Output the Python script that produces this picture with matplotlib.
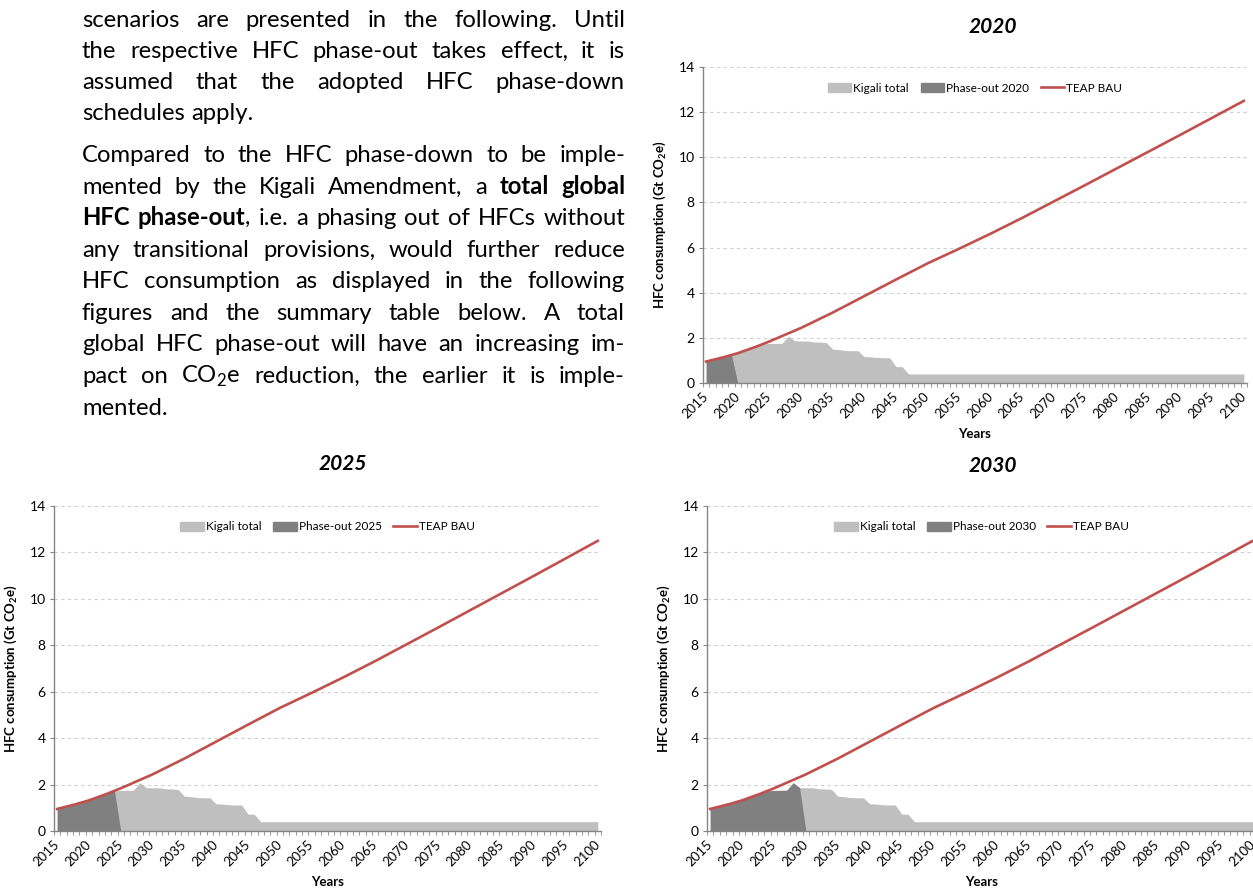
import matplotlib
matplotlib.use("Agg")
from matplotlib import pyplot as plt
from matplotlib.patches import Patch
from matplotlib.lines import Line2D
import numpy as np

plt.rcParams['font.family'] = ['Lato', 'DejaVu Sans']
plt.rcParams['mathtext.fontset'] = 'custom'
plt.rcParams['mathtext.rm'] = 'Lato'
plt.rcParams['mathtext.bf'] = 'Lato:bold'

# Datos
years = list(range(2015, 2101))

kigali_total = [0.95, 1.02, 1.09, 1.16, 1.24, 1.32, 1.42, 1.52, 1.62, 1.73,
                1.75, 1.75, 1.76, 2.08, 1.87, 1.86, 1.86, 1.82, 1.81, 1.79,
                1.50, 1.48, 1.44, 1.43, 1.43, 1.17, 1.16, 1.13, 1.12, 1.12,
                0.73, 0.72,
                0.40, 0.40, 0.40, 0.40, 0.40, 0.40, 0.40, 0.40, 0.40, 0.40,
                0.40, 0.40, 0.40, 0.40, 0.40, 0.40, 0.40, 0.40, 0.40, 0.40,
                0.40, 0.40, 0.40, 0.40, 0.40, 0.40, 0.40, 0.40, 0.40, 0.40,
                0.40, 0.40, 0.40, 0.40, 0.40, 0.40, 0.40, 0.40, 0.40, 0.40,
                0.40, 0.40, 0.40, 0.40, 0.40, 0.40, 0.40, 0.40, 0.40, 0.40,
                0.40, 0.40, 0.40, 0.40]

bau_years = [2015, 2016, 2017, 2018, 2019, 2020, 2021, 2022, 2023, 2024, 2025,
             2026, 2027, 2028, 2029, 2030, 2035, 2040, 2045, 2050, 2055, 2060,
             2065, 2070, 2075, 2080, 2085, 2090, 2095, 2100]
bau_vals = [0.95, 1.02, 1.09, 1.16, 1.24, 1.32, 1.42, 1.52, 1.62, 1.73, 1.84,
            1.96, 2.08, 2.20, 2.32, 2.44, 3.12, 3.85, 4.58, 5.30, 5.95, 6.62,
            7.32, 8.05, 8.78, 9.52, 10.26, 11.00, 11.75, 12.50]

phaseout_years = [2020, 2025, 2030]
xtick_years = list(range(2015, 2101, 5))
ytick_vals = [0, 2, 4, 6, 8, 10, 12, 14]

W, H = 1253, 889
fig = plt.figure(figsize=(W / 100, H / 100), dpi=100)

LIGHT = '#BFBFBF'
DARK = '#808080'
RED = '#C0504D'
AXC = '#868686'


def make_chart(rect, po_year, title_xy):
    left, top, right, bottom = rect
    ax = fig.add_axes([left / W, 1 - bottom / H, (right - left) / W, (bottom - top) / H])
    yrs = np.array(years)
    kig = np.array(kigali_total)
    ax.fill_between(yrs, 0, kig, color=LIGHT, lw=0, zorder=2)
    # la serie de phase-out sigue a Kigali hasta el año de eliminacion
    n = po_year - 2015
    po_x = list(yrs[:n]) + [po_year]
    po_y = list(kig[:n]) + [0]
    ax.fill_between(po_x, 0, po_y, color=DARK, lw=0, zorder=3)
    ax.plot(bau_years, bau_vals, color=RED, lw=1.9, zorder=4)

    ax.set_xlim(2014.5, 2100.5)
    ax.set_ylim(0, 14)
    ax.set_yticks(ytick_vals)
    ax.set_xticks(xtick_years)
    ax.set_xticklabels([str(y) for y in xtick_years], rotation=45, ha='right',
                       va='center', rotation_mode='anchor', fontsize=9.5)
    ax.set_xticks(np.arange(2014.5, 2101, 1), minor=True)
    ax.tick_params(axis='x', which='major', length=0, pad=8)
    ax.tick_params(axis='x', which='minor', length=3, color=AXC, direction='out')
    ax.tick_params(axis='y', length=3, color=AXC, labelsize=10, pad=3)
    for s in ['top', 'right']:
        ax.spines[s].set_visible(False)
    for s in ['left', 'bottom']:
        ax.spines[s].set_color(AXC)
        ax.spines[s].set_linewidth(1.0)
    ax.grid(axis='y', ls=(0, (3, 3)), color='#D0D0D0', lw=0.8, zorder=0)
    ax.set_axisbelow(True)

    ax.set_ylabel('HFC consumption (Gt CO$_\\mathbf{2}$e)', fontsize=9.5, fontweight='bold')
    ax.yaxis.set_label_coords(-35 / (right - left), 0.5)
    ax.set_xlabel('Years', fontsize=9.5, fontweight='bold')
    ax.xaxis.set_label_coords(0.5, -45 / (bottom - top))

    handles = [Patch(color=LIGHT), Patch(color=DARK), Line2D([], [], color=RED, lw=1.9)]
    labels = ['Kigali total', 'Phase-out %d' % po_year, 'TEAP BAU']
    ax.legend(handles, labels, loc='center', bbox_to_anchor=(0.5, 1 - 21 / (bottom - top)),
              ncol=3, frameon=False, fontsize=8.5, handlelength=2.0, handleheight=0.7,
              handletextpad=0.15, columnspacing=1.0)

    fig.text(title_xy[0] / W, 1 - title_xy[1] / H, str(po_year), ha='center', va='center',
             fontsize=15, fontweight='bold', fontstyle='italic')
    return ax


make_chart((703, 67, 1247, 383), phaseout_years[0], (993, 27))
make_chart((54, 506, 601, 831), phaseout_years[1], (343, 464))
make_chart((707, 506, 1256, 831), phaseout_years[2], (993, 466))

# Texto justificado
para_lines = [
    ("scenarios are presented in the following. Until", True, 20),
    ("the respective HFC phase-out takes effect, it is", True, 51),
    ("assumed that the adopted HFC phase-down", True, 82),
    ("schedules apply.", False, 113),
    ("Compared to the HFC phase-down to be imple-", True, 155),
    ("mented by the Kigali Amendment, a *total* *global*", True, 187),
    ("*HFC* *phase-out*, i.e. a phasing out of HFCs without", True, 218),
    ("any transitional provisions, would further reduce", True, 250),
    ("HFC consumption as displayed in the following", True, 281),
    ("figures and the summary table below. A total", True, 313),
    ("global HFC phase-out will have an increasing im-", True, 344),
    ("pact on CO$_2$e reduction, the earlier it is imple-", True, 376),
    ("mented.", False, 408),
]
TX0, TX1 = 82, 625
FS = 17.2

fig.canvas.draw()
rend = fig.canvas.get_renderer()

tmp = []
for line, justify, yc in para_lines:
    words = line.split(' ')
    word_objs = []
    for w in words:
        parts = w.split('*')
        segs = []
        for i, p in enumerate(parts):
            if p == '':
                continue
            t = fig.text(0, 0, p, fontsize=FS, fontweight='bold' if i % 2 == 1 else 'normal',
                         color='black', va='baseline', ha='left')
            wd = t.get_window_extent(rend).width
            segs.append((t, wd))
        word_objs.append(segs)
    widths = [sum(s[1] for s in segs) for segs in word_objs]
    t1 = fig.text(0, 0, 'a a', fontsize=FS)
    t2 = fig.text(0, 0, 'a', fontsize=FS)
    space = t1.get_window_extent(rend).width - 2 * t2.get_window_extent(rend).width
    tmp += [t1, t2]
    if justify and len(words) > 1:
        gap = (TX1 - TX0 - sum(widths)) / (len(words) - 1)
    else:
        gap = space
    x = TX0
    yb = yc + 7
    for segs, wd in zip(word_objs, widths):
        xx = x
        for t, sw in segs:
            t.set_position((xx / W, 1 - yb / H))
            xx += sw
        x += wd + gap

# limpiar textos de medida
for t in tmp:
    t.remove()

fig.savefig('out.png', dpi=100)
